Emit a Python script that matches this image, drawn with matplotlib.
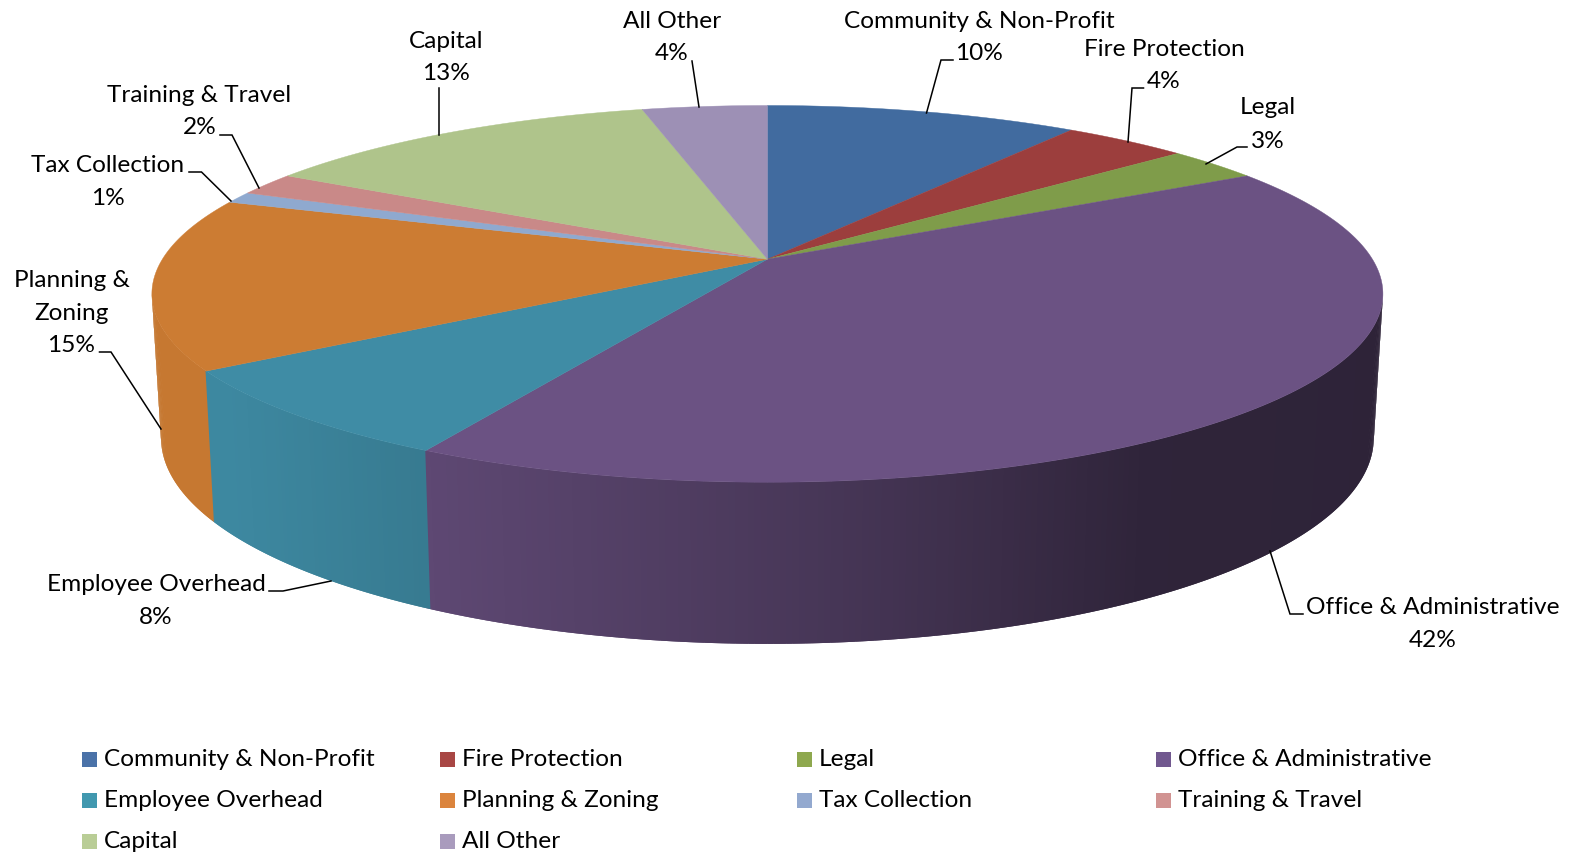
import numpy as np
import matplotlib
matplotlib.use("Agg")
import matplotlib.pyplot as plt
from matplotlib.patches import Rectangle

plt.rcParams['font.family'] = ['Lato', 'DejaVu Sans']

# Budget shares by category, in percent
categories = ["Community & Non-Profit", "Fire Protection", "Legal", "Office & Administrative",
              "Employee Overhead", "Planning & Zoning", "Tax Collection", "Training & Travel",
              "Capital", "All Other"]
values = [10, 4, 3, 42, 8, 15, 1, 2, 13, 4]
slice_colors = ["#416B9F", "#9C3E3D", "#7F9C4A", "#6B5283", "#3F8CA5",
                "#CC7C33", "#8FA9CF", "#C98988", "#AFC48B", "#9D90B5"]
legend_colors = ["#4A72A8", "#A84644", "#8EA84E", "#71588F", "#4198AF",
                 "#DB843D", "#93A9CF", "#D19392", "#B9CD96", "#A99BBD"]

# Perspective disc: centre, horizontal and vertical scale for the top and bottom faces
PERSP = 0.184
TOP = dict(cx=767.4, cy=259.2, a=605.0, b=182.0)
BOTTOM = dict(cx=767.4, cy=400.0, a=596.0, b=199.0)

# Side brightness falls away from left to right across the rim
SHADE_X = [150, 230, 460, 800, 900, 1000, 1150, 1390]
SHADE_K = [0.97, 0.97, 0.86, 0.68, 0.62, 0.55, 0.44, 0.43]


def project(theta, face):
    """Map clockwise angles from twelve o'clock onto a face of the disc."""
    u, v = np.sin(theta), np.cos(theta)
    w = 1 + PERSP * v
    return face['cx'] + face['a'] * u / w, face['cy'] - face['b'] * v / w


def scale_color(color, k):
    rgb = np.array(matplotlib.colors.to_rgb(color))
    return tuple(np.clip(rgb * k, 0, 1))


fig = plt.figure(figsize=(15.75, 8.55), dpi=100)
ax = fig.add_axes([0, 0, 1, 1])
ax.set_xlim(0, 1575)
ax.set_ylim(855, 0)
ax.axis('off')

edges = np.concatenate([[0], np.cumsum(values)]) / np.sum(values) * 2 * np.pi

# Rim: strips between the two silhouette points of the disc, each overlapping
# the next one so that no seams show between them
rim_start = np.arccos(-PERSP)
rim_end = 2 * np.pi - rim_start
strip_edges = np.linspace(rim_start, rim_end, 321)
step = strip_edges[1] - strip_edges[0]
for t0 in strip_edges[:-1]:
    t1 = min(t0 + 2 * step, rim_end)
    mid = t0 + step / 2
    idx = min(np.searchsorted(edges, mid, side='right') - 1, len(values) - 1)
    xt, yt = project(np.array([t0, t1]), TOP)
    xb, yb = project(np.array([t1, t0]), BOTTOM)
    k = np.interp(xt[0], SHADE_X, SHADE_K)
    c = scale_color(slice_colors[idx], k)
    ax.fill(np.r_[xt, xb], np.r_[yt, yb], facecolor=c, edgecolor='none', linewidth=0, zorder=2)

# Top face
for i, color in enumerate(slice_colors):
    arc = np.linspace(edges[i], edges[i + 1], max(8, int(values[i] * 8)))
    x, y = project(arc, TOP)
    ax.fill(np.r_[TOP['cx'], x], np.r_[TOP['cy'], y], facecolor=color, edgecolor=color,
            linewidth=0.3, zorder=3)

# Data labels: one centre x and a y per text line
label_layout = {
    "Community & Non-Profit": (979, [(21, "Community & Non-Profit")], 53),
    "Fire Protection": (1164, [(49, "Fire Protection")], 81),
    "Legal": (1268, [(108, "Legal")], 141),
    "Office & Administrative": (1433, [(607, "Office & Administrative")], 640),
    "Employee Overhead": (156, [(584, "Employee Overhead")], 617),
    "Planning & Zoning": (71.5, [(280, "Planning &"), (313, "Zoning")], 345),
    "Tax Collection": (108, [(166, "Tax Collection")], 198),
    "Training & Travel": (199.5, [(95, "Training & Travel")], 127),
    "Capital": (446, [(41, "Capital")], 74),
    "All Other": (672, [(21, "All Other")], 53),
}
FONT_PT = 17.6
for name, value in zip(categories, values):
    cx, lines, pct_y = label_layout[name]
    for y, text in lines:
        ax.text(cx, y, text, ha='center', va='center', fontsize=FONT_PT, color='black', zorder=5)
    ax.text(cx, pct_y, f"{value}%", ha='center', va='center', fontsize=FONT_PT, color='black', zorder=5)

# Leader lines from labels to slices
leaders = [
    [(953, 60), (941, 60), (926.5, 113)],
    [(1143.5, 88), (1132, 88), (1128, 142)],
    [(1247, 147), (1237, 147), (1206, 164)],
    [(1303, 614), (1290, 614), (1270, 551)],
    [(269, 591), (283, 591), (331, 581)],
    [(99.5, 352), (111, 352), (161, 429)],
    [(189, 172), (201.5, 172), (231, 201)],
    [(220, 135), (232, 135), (259, 188)],
    [(439, 88), (439, 135)],
    [(692, 61), (699, 107)],
]
for path in leaders:
    xs, ys = zip(*path)
    ax.plot(xs, ys, color='black', linewidth=1.1, solid_joinstyle='miter', zorder=4)

# Legend, laid out in four columns
col_x = [82, 440, 797, 1156]
row_y = [759, 800, 841]
for i, (name, color) in enumerate(zip(categories, legend_colors)):
    row, col = divmod(i, 4)
    x, y = col_x[col], row_y[row]
    ax.add_patch(Rectangle((x, y - 7.5), 15, 15, facecolor=color, edgecolor='none', zorder=5))
    ax.text(x + 22, y + 0.5, name, ha='left', va='center', fontsize=FONT_PT, color='black', zorder=5)

fig.savefig("out.png", dpi=100, facecolor='white')
